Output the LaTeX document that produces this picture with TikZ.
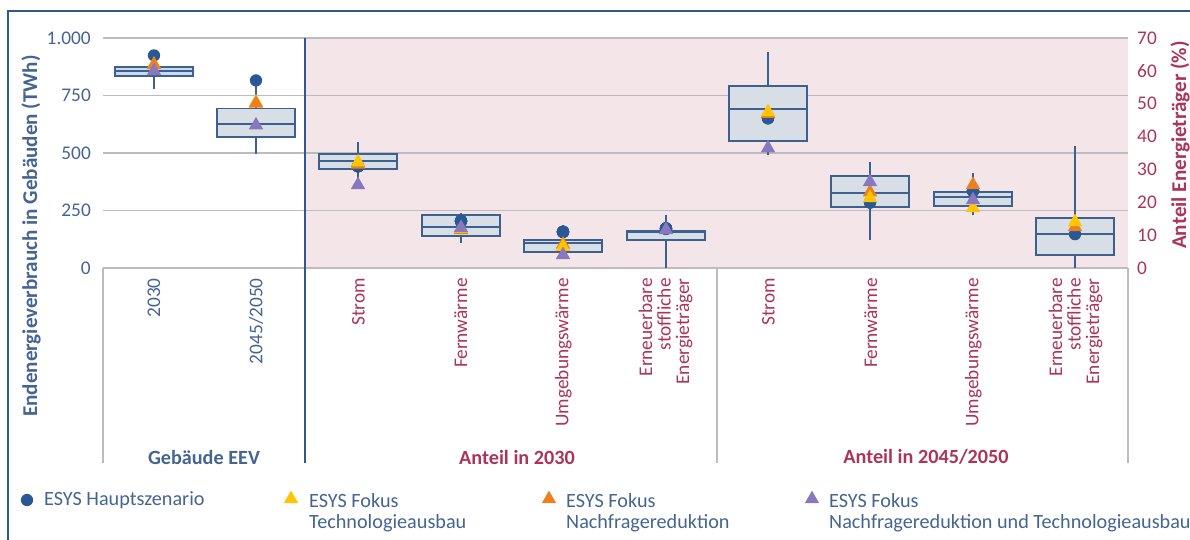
\documentclass[tikz,border=0pt]{standalone}
\usepackage{fontspec}
\setmainfont{Carlito}
\usepackage{tikz}
\usetikzlibrary{shapes.geometric}
\definecolor{frameblue}{RGB}{46,88,142}
\definecolor{txtblue}{RGB}{68,100,146}
\definecolor{txtred}{RGB}{172,52,88}
\definecolor{pinkbg}{RGB}{244,230,232}
\definecolor{gridgrey}{RGB}{188,188,192}
\definecolor{boxline}{RGB}{62,96,142}
\definecolor{boxfill}{RGB}{216,222,230}
\definecolor{boxlight}{RGB}{200,218,238}
\definecolor{mkblue}{RGB}{42,88,148}
\definecolor{mkyellow}{RGB}{255,198,0}
\definecolor{mkorange}{RGB}{236,128,32}
\definecolor{mkpurple}{RGB}{138,120,190}
\tikzset{
	grid/.style={draw=gridgrey,line width=0.6pt},
	sep/.style={draw=frameblue,line width=1.3pt},
	bbox/.style={draw=boxline,fill=boxfill,line width=1pt},
	whisk/.style={draw=boxline,line width=0.9pt},
	dotm/.style={circle,fill=mkblue,minimum size=7pt,inner sep=0pt},
	trim/.style={regular polygon,regular polygon sides=3,minimum size=9.5pt,inner sep=0pt},
	lefttick/.style={anchor=east,text=txtblue,font=\fontsize{11}{13}\selectfont},
	righttick/.style={anchor=west,text=txtred,font=\fontsize{11}{13}\selectfont},
	ytitle/.style={rotate=90,font=\bfseries\fontsize{12}{13}\selectfont},
	catlabel/.style={rotate=90,anchor=east,align=right,inner sep=0pt,font=\fontsize{11}{10.5}\selectfont},
	grp/.style={font=\bfseries\fontsize{11.5}{13}\selectfont},
	legtext/.style={anchor=west,align=left,text=txtblue,font=\fontsize{11.5}{12}\selectfont}
}
\newcommand\boxplt[7][]{%
	\draw[whisk] (#2,#3) -- (#2,#7);
	\filldraw[bbox,#1] (#2-39,#4) rectangle (#2+39,#6);
	\draw[bbox] (#2-39,#5) -- (#2+39,#5);}

\begin{document}
\begin{tikzpicture}[x=0.02cm,y=-0.02cm]
	\useasboundingbox (0,0) rectangle (1190,539);
	\fill[pinkbg] (305,38) rectangle (1128,268);
	\foreach \y in {38,95.5,153,210.5,268}
		\draw[grid] (103,\y) -- (1128,\y);
	\foreach \x in {103,717,1128}
		\draw[grid] (\x,268) -- (\x,463);
	\draw[sep] (305,38) -- (305,463);
	\draw[frameblue,line width=1.6pt] (8,545) |- (1195,11);

	% axes
	\foreach \v/\t in {0/0,250/250,500/500,750/750,1000/1.000}
		\node[lefttick] (l\v) at (97,268-0.23*\v) {\t};
	\foreach \p in {0,10,...,70}
		\node[righttick] (r\p) at (1131,268-3.2857*\p) {\p};
	\node[ytitle,text=txtblue] (ltitle) at (31,236) {Endenergieverbrauch in Gebäuden (TWh)};
	\node[ytitle,text=txtred] (rtitle) at (1180,145) {Anteil Energieträger (\%)};

	% categories
	\node[catlabel,text=txtblue] (c1) at (154,278) {2030};
	\node[catlabel,text=txtblue] (c2) at (256,278) {2045/2050};
	\foreach \t [count=\i] in {Strom,Fernwärme,Umgebungswärme,{Erneuerbare\\stoffliche\\Energieträger}}{
		\node[catlabel,text=txtred] (a\i) at (256+102.4*\i,278) {\t};
		\node[catlabel,text=txtred] (b\i) at (666+102.4*\i,278) {\t};
	}
	\node[grp,text=txtblue] (g1) at (204,457) {Gebäude EEV};
	\node[grp,text=txtred] (g2) at (517,457) {Anteil in 2030};
	\node[grp,text=txtred] (g3) at (926,457) {Anteil in 2045/2050};

	% TWh
	\begin{scope}[shift={(0,268)},y=0.0046cm]
		\boxplt[fill=boxlight]{154}{780}{835}{857}{874}{874}
		\boxplt{256}{496}{570}{626}{695}{795}
		\foreach \x/\v [count=\i] in {154/926,256/817}
			\node[dotm] (hc\i) at (\x,\v) {};
		\foreach \x/\v [count=\i] in {154/886,256/722}
			\node[trim,fill=mkyellow] (hy\i) at (\x,\v) {};
		\foreach \x/\v [count=\i] in {154/884,256/717}
			\node[trim,fill=mkorange] (ho\i) at (\x,\v) {};
		\foreach \x/\v [count=\i] in {154/858,256/622}
			\node[trim,fill=mkpurple] (hp\i) at (\x,\v) {};
	\end{scope}

	% Prozent
	\begin{scope}[shift={(0,268)},y=0.065714cm]
		\foreach \x/\a/\b/\c/\d/\e in {358/24.7/30.1/32.5/34.7/38.4,461/7.5/9.8/12.5/16.1/16.8,
			563/3/4.9/7.6/8.5/13.1,666/0/8.5/11/11.3/16.1,768/34.4/38.6/48.4/55.4/65.7,
			870/8.5/18.6/22.8/28/32.3,973/16.1/18.9/21.6/23.1/28.9,1075/0/4/10.3/15.2/37.1}
			\boxplt{\x}{\a}{\b}{\c}{\d}{\e}
		\foreach \x/\v [count=\i] in {358/31,461/14.3,563/11,666/12,768/45.6,870/20,973/23.4,1075/10.3}
			\node[dotm] (pc\i) at (\x,\v) {};
		\foreach \x/\v [count=\i] in {358/31.5,461/11.6,563/7.2,768/47,870/23.1,973/25.3,1075/12.5}
			\node[trim,fill=mkorange] (po\i) at (\x,\v) {};
		\foreach \x/\v [count=\i] in {358/32.2,461/12,563/6.5,768/47.5,870/21.3,973/18.3,1075/14}
			\node[trim,fill=mkyellow] (py\i) at (\x,\v) {};
		\foreach \x/\v [count=\i] in {358/25.3,461/12.2,563/4,666/11.6,768/36.5,870/26.2,973/20.7}
			\node[trim,fill=mkpurple] (pp\i) at (\x,\v) {};
	\end{scope}

	% legend
	\node[dotm] (lg1) at (27,500) {};
	\node[legtext] (lt1) at (38,500) {ESYS Hauptszenario};
	\node[trim,fill=mkyellow] (lg2) at (291,499) {};
	\node[legtext] (lt2) at (303,513) {ESYS Fokus\\Technologieausbau};
	\node[trim,fill=mkorange] (lg3) at (549,499) {};
	\node[legtext] (lt3) at (560,513) {ESYS Fokus\\Nachfragereduktion};
	\node[trim,fill=mkpurple] (lg4) at (812,499) {};
	\node[legtext] (lt4) at (823,513) {ESYS Fokus\\Nachfragereduktion und Technologieausbau};
\end{tikzpicture}
\end{document}
